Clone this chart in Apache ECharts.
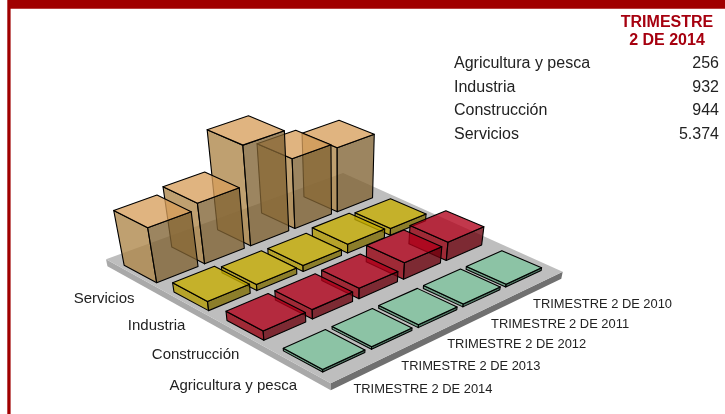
<!DOCTYPE html>
<html><head><meta charset="utf-8">
<style>html,body{margin:0;padding:0;background:#fff}#c{width:725px;height:414px}</style>
<script src="https://cdn.jsdelivr.net/npm/echarts@6/dist/echarts.min.js"></script>
</head><body><div id="c"></div>
<script>
// ---- data (first value = front of the chart)
const years = ['TRIMESTRE 2 DE 2014','TRIMESTRE 2 DE 2013','TRIMESTRE 2 DE 2012','TRIMESTRE 2 DE 2011','TRIMESTRE 2 DE 2010'];
const sectors = ['Agricultura y pesca','Construcción','Industria','Servicios'];
const agricultura = [256,260,280,290,290];
const construccion = [944,950,1050,1650,1850];
const industria = [932,620,600,900,700];
const servicios = [5374,5930,9570,6830,6345];
const tableTitle = ['TRIMESTRE','2 DE 2014'];
const tableRows = ['Agricultura y pesca','Industria','Construcción','Servicios'];
const tableValues = ['256','932','944','5.374'];

// ---- styles
const palette = {
  'Servicios':{top:'rgba(215,159,92,.78)',left:'rgba(173,133,72,.78)',right:'rgba(128,99,51,.78)'},
  'Industria':{top:'rgba(199,173,0,.78)',left:'rgba(180,155,0,.78)',right:'rgba(126,107,0,.78)'},
  'Construcción':{top:'rgba(177,0,25,.78)',left:'rgba(150,0,15,.78)',right:'rgba(106,0,12,.78)'},
  'Agricultura y pesca':{top:'rgba(126,196,158,.78)',left:'rgba(90,150,118,.78)',right:'rgba(50,100,75,.78)'}
};
const RED = '#a00000', TEXT = '#222';

// ---- perspective calibration: floor points of the first/last bars, and the plate outline
const calib = {B:[322.7,372],C:[505.7,287],D:[337.3,211.7],A:[156.7,282.7]};
const plate = {B:[330.7,383.3],C:[562.7,271.7],D:[343,173],A:[106,259.3]};
const VP = [340,1400], ZK = 0.000384, BAR_W = .86, BAR_D = .66, MU = (1-BAR_W)/2, MV = (1-BAR_D)/2, PLATE_T = 18;
const H = (function(){
  const {B,C,D,A} = calib;
  const dx1=C[0]-D[0],dx2=A[0]-D[0],sx=B[0]-C[0]+D[0]-A[0];
  const dy1=C[1]-D[1],dy2=A[1]-D[1],sy=B[1]-C[1]+D[1]-A[1];
  const den=dx1*dy2-dx2*dy1;
  const g=(sx*dy2-dx2*sy)/den,h=(dx1*sy-sx*dy1)/den;
  return {a:C[0]-B[0]+g*C[0],b:A[0]-B[0]+h*A[0],c:B[0],d:C[1]-B[1]+g*C[1],e:A[1]-B[1]+h*A[1],f:B[1],g,h};
})();
function project(s,t,zPx){
  const z=-zPx*ZK;
  const X=H.a*s+H.b*t+H.c+z*VP[0], Y=H.d*s+H.e*t+H.f+z*VP[1], W=H.g*s+H.h*t+1+z;
  return [X/W,Y/W];
}
function unproject(p){
  const a1=H.a-H.g*p[0],b1=H.b-H.h*p[0],c1=p[0]-H.c,a2=H.d-H.g*p[1],b2=H.e-H.h*p[1],c2=p[1]-H.f;
  const det=a1*b2-a2*b1;
  return [(c1*b2-c2*b1)/det,(a1*c2-a2*c1)/det];
}
const GRID={left:0,top:0,width:500,height:400};
const nU=years.length,nV=sectors.length;
function floor(px,py){ // grid pixels -> floor coordinates
  const bu=(px-GRID.left)/(GRID.width/nU), bv=(GRID.top+GRID.height-py)/(GRID.height/nV);
  return [(bu-MU)/(nU-1),(bv-MV)/(nV-1)];
}

const chart = echarts.init(document.getElementById('c'),null,{renderer:'canvas'});
const face=(pts,fill,st)=>({type:'polygon',silent:true,shape:{points:pts},style:Object.assign({fill,stroke:'#000',lineWidth:1.1,lineJoin:'round'},st||{})});

function renderBar(params,api){
  const yi=api.value(0),si=api.value(1),val=api.value(2);
  const c=api.coord([yi,si]),size=api.size([1,1]);
  const hw=size[0]*BAR_W/2,hd=size[1]*BAR_D/2;
  const zero=chart.convertToPixel({yAxisIndex:1},0);
  const h=zero-chart.convertToPixel({yAxisIndex:1},val);
  const f=floor(c[0]-hw,c[1]+hd),l=floor(c[0]-hw,c[1]-hd),r=floor(c[0]+hw,c[1]+hd),b=floor(c[0]+hw,c[1]-hd);
  const P=(q,z)=>project(q[0],q[1],z);
  const col=palette[sectors[si]];
  return {type:'group',children:[
    face([P(l,0),P(f,0),P(f,h),P(l,h)],col.left),
    face([P(f,0),P(r,0),P(r,h),P(f,h)],col.right),
    face([P(l,h),P(f,h),P(r,h),P(b,h)],col.top)
  ]};
}
function renderPlate(){
  const A=unproject(plate.A),B=unproject(plate.B),C=unproject(plate.C),D=unproject(plate.D);
  const P=(q,z)=>project(q[0],q[1],z);
  const ns={stroke:null,lineWidth:0};
  return {type:'group',children:[
    face([P(A,0),P(B,0),P(B,-PLATE_T),P(A,-PLATE_T)],'#a9a9a9',ns),
    face([P(B,0),P(C,0),P(C,-PLATE_T),P(B,-PLATE_T)],'#707070',ns),
    face([P(A,0),P(B,0),P(C,0),P(D,0)],'#bebebe',ns)
  ]};
}
const LABEL_OFF={year:[-5.5,19],sector:[-1.5,23]};
function renderYearLabel(params,api){
  const c=api.coord([api.value(0),0]);
  const s=floor(c[0],0)[0];
  const p=project(s,unproject(plate.B)[1],0);
  return {type:'text',silent:true,x:p[0]+LABEL_OFF.year[0],y:p[1]+LABEL_OFF.year[1],
    style:{text:years[api.value(0)],font:'12.9px "Liberation Sans"',fill:TEXT,align:'left',verticalAlign:'middle'}};
}
function renderSectorLabel(params,api){
  const c=api.coord([0,api.value(0)]);
  const t=floor(0,c[1])[1];
  const p=project(unproject(plate.A)[0],t,0);
  return {type:'text',silent:true,x:p[0]+LABEL_OFF.sector[0],y:p[1]+LABEL_OFF.sector[1],
    style:{text:sectors[api.value(0)],font:'15px "Liberation Sans"',fill:TEXT,align:'right',verticalAlign:'middle'}};
}

const barSeries=[[servicios,3],[industria,2],[construccion,1],[agricultura,0]].map(([vals,si])=>({
  type:'custom',coordinateSystem:'cartesian2d',xAxisIndex:0,yAxisIndex:0,renderItem:renderBar,clip:false,
  encode:{x:0,y:1},
  data:vals.map((v,i)=>[i,si,v]).reverse()
}));
const tableGraphics=[];
const txt=(x,y,text,font,fill,align)=>({type:'text',silent:true,x,y,style:{text,font,fill,align,verticalAlign:'middle'}});
tableTitle.forEach((t,i)=>tableGraphics.push(txt(667,22.5+i*18,t,'bold 16px "Liberation Sans"','#a6000f','center')));
tableRows.forEach((t,i)=>{
  tableGraphics.push(txt(454,64+i*23.4,t,'16px "Liberation Sans"',TEXT,'left'));
  tableGraphics.push(txt(719,64+i*23.4,tableValues[i],'16px "Liberation Sans"',TEXT,'right'));
});
chart.setOption({
  animation:false,
  grid:[Object.assign({show:false},GRID),{show:false,left:0,top:0,width:10,height:300}],
  xAxis:[{type:'category',data:years,gridIndex:0,show:false},{type:'value',gridIndex:1,show:false}],
  yAxis:[{type:'category',data:sectors,gridIndex:0,show:false},{type:'value',gridIndex:1,show:false,min:0,max:12000}],
  graphic:{elements:[
    {type:'rect',silent:true,shape:{x:8,y:0,width:717,height:8.7},style:{fill:RED}},
    {type:'rect',silent:true,shape:{x:7.3,y:0,width:3.3,height:414},style:{fill:RED}}
  ].concat(tableGraphics)},
  series:[
    {type:'custom',coordinateSystem:'cartesian2d',xAxisIndex:0,yAxisIndex:0,renderItem:renderPlate,clip:false,encode:{x:0,y:1},data:[[0,0]],z:1}
  ].concat(barSeries.map(s=>Object.assign(s,{z:2}))).concat([
    {type:'custom',coordinateSystem:'cartesian2d',xAxisIndex:0,yAxisIndex:0,renderItem:renderYearLabel,clip:false,encode:{x:0},data:years.map((_,i)=>[i,0]),z:3},
    {type:'custom',coordinateSystem:'cartesian2d',xAxisIndex:0,yAxisIndex:0,renderItem:renderSectorLabel,clip:false,encode:{y:0},data:sectors.map((_,i)=>[i,0]),z:3}
  ])
});
</script></body></html>
